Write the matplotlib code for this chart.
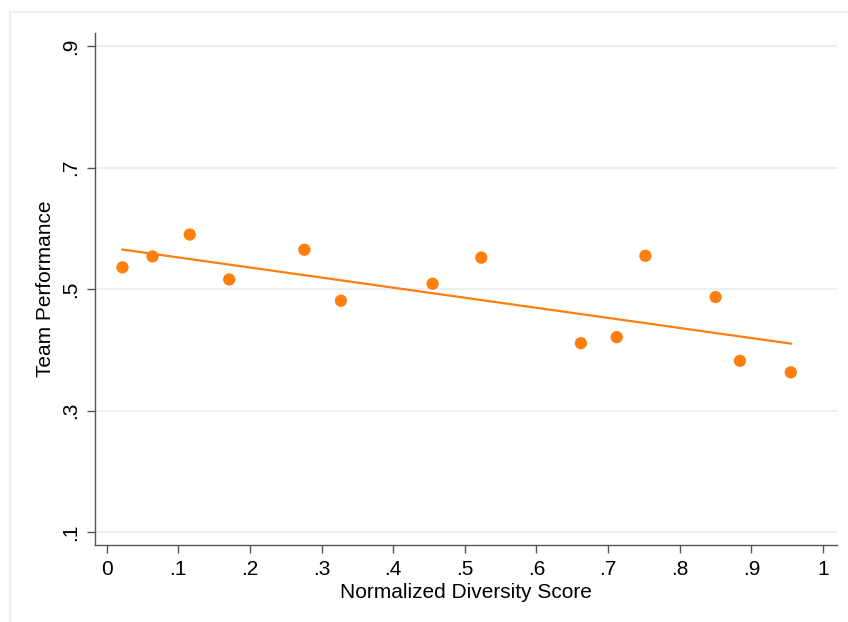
import numpy as np
import matplotlib
matplotlib.use("Agg")
import matplotlib.pyplot as plt
from matplotlib.patches import Rectangle

# binned means (points) and fitted line parameters
diversity = [0.022, 0.064, 0.116, 0.171, 0.276, 0.327, 0.455, 0.523, 0.662, 0.712, 0.752, 0.850, 0.884, 0.955]
performance = [0.536, 0.554, 0.590, 0.516, 0.565, 0.481, 0.509, 0.552, 0.411, 0.421, 0.555, 0.487, 0.382, 0.363]
fit_intercept = 0.5689
fit_slope = -0.166
xticks = [0, 0.1, 0.2, 0.3, 0.4, 0.5, 0.6, 0.7, 0.8, 0.9, 1.0]
xticklabels = ["0", ".1", ".2", ".3", ".4", ".5", ".6", ".7", ".8", ".9", "1"]
yticks = [0.1, 0.3, 0.5, 0.7, 0.9]
yticklabels = [".1", ".3", ".5", ".7", ".9"]

plt.rcParams['font.family'] = ['Liberation Sans', 'DejaVu Sans']

W, H = 848, 622
fig = plt.figure(figsize=(W / 100, H / 100), dpi=100)
fig.patch.set_facecolor("white")

# outer light frame
fig.patches.append(Rectangle((10 / W, -0.05), 1.1, 1 - 12 / H + 0.05, transform=fig.transFigure,
                             fill=False, edgecolor="#eaeff2", linewidth=1.5, zorder=0))

ax = fig.add_axes([95 / W, 1 - 545 / H, (837 - 95) / W, (545 - 33) / H])
orange = "#ff7f0e"

x = np.array(diversity)
y = np.array(performance)
xl = np.array([x.min(), x.max()])
ax.plot(xl, fit_intercept + fit_slope * xl, color=orange, linewidth=1.6, zorder=3)
ax.scatter(x, y, s=78, color=orange, edgecolors="none", zorder=4)

ax.set_xlim(-0.0163, 1.0195)
ax.set_ylim(0.0786, 0.922)
ax.set_xticks(xticks)
ax.set_xticklabels(xticklabels)
ax.set_yticks(yticks)
ax.set_yticklabels(yticklabels, rotation=90, va="center")

ax.grid(axis="y", color="#eaeff2", linewidth=1.5)
ax.set_axisbelow(True)
for s in ["top", "right"]:
    ax.spines[s].set_visible(False)
for s in ["left", "bottom"]:
    ax.spines[s].set_color("#555555")
    ax.spines[s].set_linewidth(1.0)
ax.tick_params(axis="both", direction="out", length=6, width=1, color="#555555",
               labelsize=15, labelcolor="black", pad=5)

ax.set_xlabel("Normalized Diversity Score", fontsize=15, va="center")
ax.xaxis.set_label_coords(0.5, (545 - 592) / 512)
ax.set_ylabel("Team Performance", fontsize=15, va="center")
ax.yaxis.set_label_coords((46 - 95) / 742, 0.5)

fig.savefig("out.png", dpi=100, facecolor="white")
